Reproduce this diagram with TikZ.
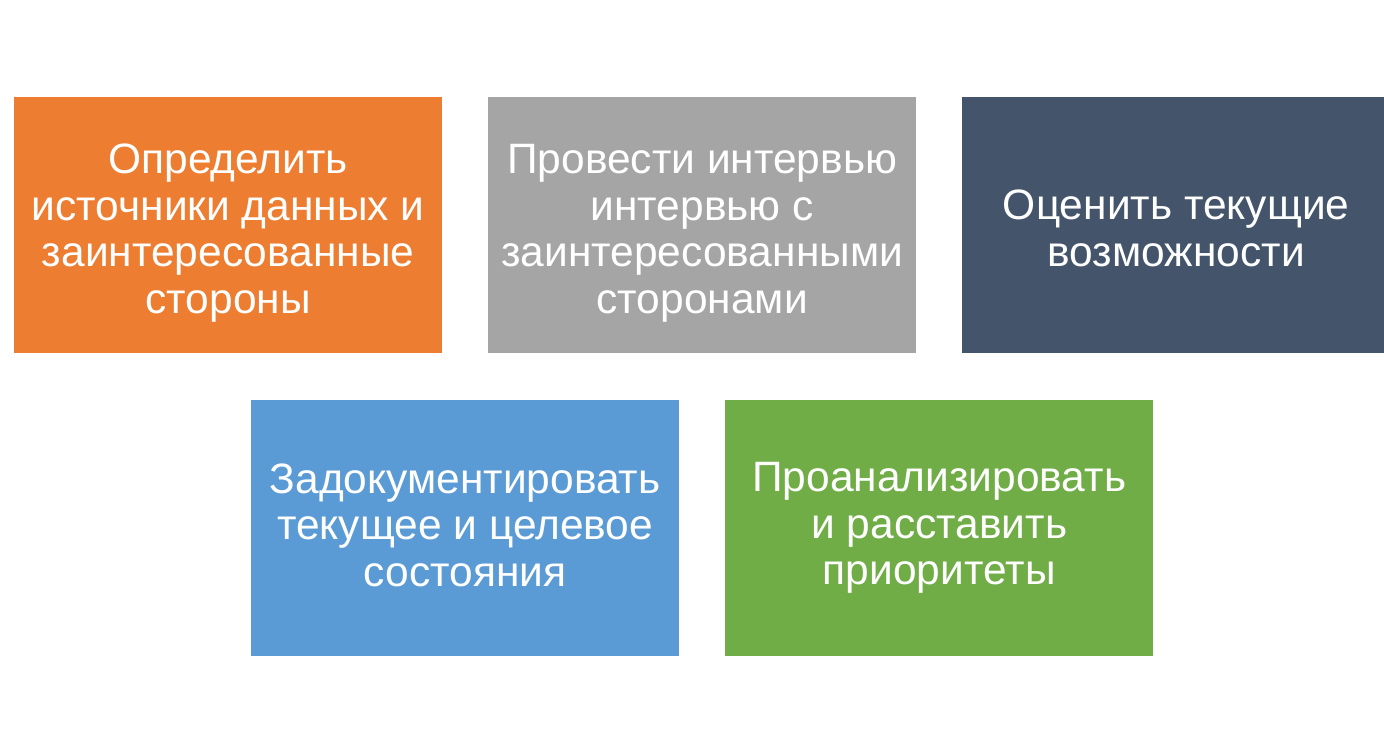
\documentclass[tikz,border=0pt]{standalone}
\usepackage{fontspec}
\setmainfont{Liberation Sans}
\definecolor{corange}{HTML}{ED7D31}
\definecolor{cgray}{HTML}{A5A5A5}
\definecolor{cdark}{HTML}{44546A}
\definecolor{cblue}{HTML}{5B9BD5}
\definecolor{cgreen}{HTML}{70AD47}
\begin{document}
\begin{tikzpicture}[x=1pt,y=-1pt,
  card/.style={draw=none,minimum width=428pt,minimum height=256pt,inner sep=0pt,anchor=north west},
  txt/.style={text=white,align=center,inner sep=0pt,font=\fontsize{42.5}{46.5}\selectfont}]
\useasboundingbox[fill=white] (0,0) rectangle (1384,752);
\begin{scope}
\clip (0,0) rectangle (1384,752);
\node[card,fill=corange] (a) at (14,97) {};
\node[card,fill=cgray] (b) at (488,97) {};
\node[card,fill=cdark] (c) at (962,97) {};
\node[card,fill=cblue] (d) at (251,400) {};
\node[card,fill=cgreen] (e) at (725,400) {};
\node[txt] (ta) at ([yshift=-8pt]a.center) {Определить\\источники данных и\\заинтересованные\\стороны};
\node[txt] (tb) at ([yshift=-8pt]b.center) {Провести интервью\\интервью с\\заинтересованными\\сторонами};
\node[txt] (tc) at ([yshift=-3pt]c.center) {Оценить текущие\\возможности};
\node[txt] (td) at ([yshift=3pt]d.center) {Задокументировать\\текущее и целевое\\состояния};
\node[txt] (te) at (e.center) {Проанализировать\\и расставить\\приоритеты};
\end{scope}
\end{tikzpicture}
\end{document}
